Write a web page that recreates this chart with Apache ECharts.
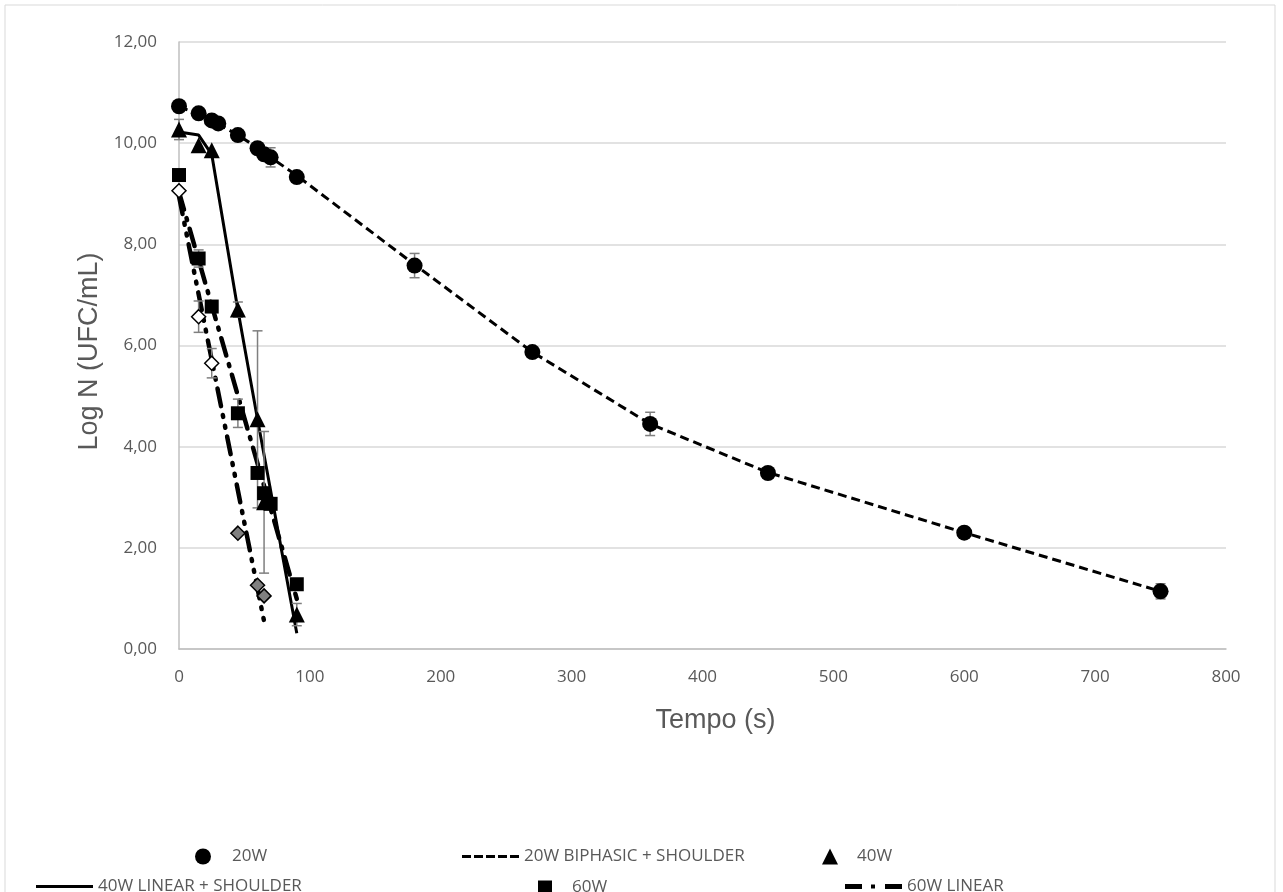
<!DOCTYPE html>
<html>
<head>
<meta charset="utf-8">
<script src="https://cdn.jsdelivr.net/npm/echarts@6/dist/echarts.min.js"></script>
<style>
    body { margin: 0; background: #fff; }
    #chart { width: 1283px; height: 892px; }
</style>
</head>
<body>
<div id="chart"></div>
<script>
// 20W
var t20 = [0, 15, 25, 30, 45, 60, 65, 70, 90, 180, 270, 360, 450, 600, 750];
var y20 = [10.73, 10.59, 10.45, 10.39, 10.16, 9.90, 9.78, 9.72, 9.33, 7.58, 5.87, 4.45, 3.48, 2.30, 1.14];
var e20 = [0, 0, 0, 0, 0, 0, 0, 0.19, 0, 0.24, 0, 0.23, 0, 0.08, 0.15];
var fit20 = [10.72, 10.58, 10.45, 10.38, 10.16, 9.91, 9.80, 9.72, 9.36, 7.60, 5.87, 4.45, 3.49, 2.30, 1.14];

// 40W
var t40 = [0, 15, 25, 45, 60, 65, 90];
var y40 = [10.27, 9.96, 9.86, 6.71, 4.54, 2.90, 0.68];
var e40 = [0.2, 0, 0, 0.15, 1.75, 1.4, 0.22];
var tFit40 = [0, 15, 25, 45, 60, 90];
var fit40 = [10.22, 10.16, 9.78, 6.70, 4.54, 0.31];

// 60W
var t60 = [0, 15, 25, 45, 60, 65, 70, 90];
var y60 = [9.37, 7.72, 6.77, 4.66, 3.48, 3.08, 2.87, 1.28];
var e60 = [0, 0.17, 0, 0.28, 0, 0, 0, 0];
var tFit60 = [0, 90];
var fit60 = [9.03, 0.99];

// 60W (replica, losango)
var t60b = [0, 15, 25, 45, 60, 65];
var y60b = [9.06, 6.57, 5.65, 2.29, 1.26, 1.05];
var e60b = [0, 0.31, 0.29, 0, 0, 0];
var tFit60b = [0, 65];
var fit60b = [8.95, 0.55];

var xTicks = [0, 100, 200, 300, 400, 500, 600, 700, 800];

function pairs(xs, ys) {
    return xs.map(function (x, i) { return [x, ys[i]]; });
}
function errData(xs, ys, es) {
    var out = [];
    xs.forEach(function (x, i) {
        if (es[i] > 0) out.push([x, ys[i] - es[i], ys[i] + es[i]]);
    });
    return out;
}
function renderErr(params, api) {
    var x = api.value(0);
    var pHi = api.coord([x, api.value(2)]);
    var pLo = api.coord([x, api.value(1)]);
    var w = 5;
    var st = { stroke: '#7f7f7f', lineWidth: 1.5 };
    return {
        type: 'group',
        children: [
            { type: 'line', shape: { x1: pHi[0], y1: pHi[1], x2: pLo[0], y2: pLo[1] }, style: st },
            { type: 'line', shape: { x1: pHi[0] - w, y1: pHi[1], x2: pHi[0] + w, y2: pHi[1] }, style: st },
            { type: 'line', shape: { x1: pLo[0] - w, y1: pLo[1], x2: pLo[0] + w, y2: pLo[1] }, style: st }
        ]
    };
}
function errSeries(data) {
    return {
        type: 'custom',
        renderItem: renderErr,
        data: data,
        encode: { x: 0, y: [1, 2] },
        z: 4,
        silent: true
    };
}

// 图例线型样本
var iconSolid = 'path://M0,0H57V3H0Z';
var iconDash = 'path://M0,0h9v3h-9zM12,0h9v3h-9zM24,0h9v3h-9zM36,0h9v3h-9zM48,0h9v3h-9z';
var iconDashDot = 'path://M0,0h17v5h-17zM26,0.5h4v4h-4zM40,0h17v5h-17z';

var txtFont = 'Open Sans';
// 图例：每项单独定位
function legendAt(name, left, top, w, h, padLeft, icon) {
    var item = { name: name };
    if (icon) item.icon = icon;
    return {
        data: [item],
        left: left,
        top: top,
        itemWidth: w,
        itemHeight: h,
        itemGap: 0,
        padding: 0,
        selectedMode: false,
        textStyle: { color: '#595959', fontSize: 17, fontFamily: txtFont, padding: [0, 0, 0, padLeft] }
    };
}

var option = {
    backgroundColor: '#ffffff',
    animation: false,
    graphic: [{
        type: 'rect',
        shape: { x: 5, y: 5, width: 1270, height: 900 },
        style: { fill: 'none', stroke: '#d9d9d9', lineWidth: 1 },
        silent: true
    }],
    grid: { left: 179, right: 57, top: 42, bottom: 243 },
    xAxis: {
        type: 'value',
        min: 0,
        max: 800,
        interval: 100,
        name: 'Tempo (s)',
        nameLocation: 'middle',
        nameGap: 58,
        nameTextStyle: { fontFamily: 'Liberation Sans', fontSize: 27, color: '#595959', padding: [0, 0, 0, 26] },
        axisLine: { show: true, lineStyle: { color: '#bfbfbf', width: 1.5 } },
        axisTick: { show: false },
        splitLine: { show: false },
        axisLabel: {
            color: '#595959', fontSize: 17, fontFamily: txtFont, margin: 20,
            formatter: function (v) { return xTicks.indexOf(v) >= 0 ? String(v) : ''; }
        }
    },
    yAxis: {
        type: 'value',
        min: 0,
        max: 12,
        interval: 2,
        name: 'Log N (UFC/mL)',
        nameLocation: 'middle',
        nameGap: 76,
        nameTextStyle: { fontFamily: 'Liberation Sans', fontSize: 27, color: '#595959', padding: [0, 12, 0, 0] },
        axisLine: { show: true, lineStyle: { color: '#bfbfbf', width: 1.5 } },
        axisTick: { show: false },
        splitLine: { show: true, lineStyle: { color: '#d9d9d9', width: 1.5 } },
        axisLabel: {
            color: '#595959', fontSize: 17, fontFamily: txtFont, margin: 22,
            formatter: function (v) { return v.toFixed(2).replace('.', ','); }
        }
    },
    legend: [
        legendAt('20W', 195, 848, 16, 16, 16),
        legendAt('20W BIPHASIC + SHOULDER', 462, 848, 57, 3, 0, iconDash),
        legendAt('40W', 822, 848, 16, 16, 14),
        legendAt('40W LINEAR + SHOULDER', 36, 878, 57, 3, 0, iconSolid),
        legendAt('60W', 538, 879, 14, 14, 15),
        legendAt('60W LINEAR', 845, 878, 57, 5, 0, iconDashDot)
    ],
    series: [
        errSeries(errData(t20, y20, e20)),
        errSeries(errData(t40, y40, e40)),
        errSeries(errData(t60, y60, e60)),
        errSeries(errData(t60b, y60b, e60b)),
        {
            name: '20W BIPHASIC + SHOULDER',
            type: 'line',
            data: pairs(t20, fit20),
            symbol: 'none',
            lineStyle: { color: '#000', width: 3, type: [9, 5] },
            itemStyle: { color: '#000' },
            z: 3
        },
        {
            name: '40W LINEAR + SHOULDER',
            type: 'line',
            data: pairs(tFit40, fit40),
            symbol: 'none',
            lineStyle: { color: '#000', width: 3, type: 'solid' },
            itemStyle: { color: '#000' },
            z: 3
        },
        {
            name: '60W LINEAR',
            type: 'line',
            data: pairs(tFit60, fit60),
            symbol: 'none',
            lineStyle: { color: '#000', width: 4.5, type: [18, 9, 2, 9], cap: 'round' },
            itemStyle: { color: '#000' },
            z: 3
        },
        {
            name: '60W LINEAR B',
            type: 'line',
            data: pairs(tFit60b, fit60b),
            symbol: 'none',
            lineStyle: { color: '#000', width: 4.5, type: [18, 9, 2, 9, 2, 9], cap: 'round' },
            itemStyle: { color: '#000' },
            z: 3
        },
        {
            name: '20W',
            type: 'scatter',
            data: pairs(t20, y20),
            symbol: 'circle',
            symbolSize: 16,
            itemStyle: { color: '#000', opacity: 1 },
            z: 5
        },
        {
            name: '40W',
            type: 'scatter',
            data: pairs(t40, y40),
            symbol: 'triangle',
            symbolSize: 16,
            itemStyle: { color: '#000', opacity: 1 },
            z: 5
        },
        {
            name: '60W',
            type: 'scatter',
            data: pairs(t60, y60),
            symbol: 'rect',
            symbolSize: 14,
            itemStyle: { color: '#000', opacity: 1 },
            z: 5
        },
        {
            name: '60W (b)',
            type: 'scatter',
            data: pairs(t60b, y60b),
            symbol: 'diamond',
            symbolSize: 14,
            itemStyle: {
                color: function (p) { return p.dataIndex >= 3 ? '#808080' : '#ffffff'; },
                borderColor: '#000', borderWidth: 1.5, opacity: 1
            },
            z: 6
        }
    ]
};

var myChart = echarts.init(document.getElementById('chart'));
myChart.setOption(option);
</script>
</body>
</html>
